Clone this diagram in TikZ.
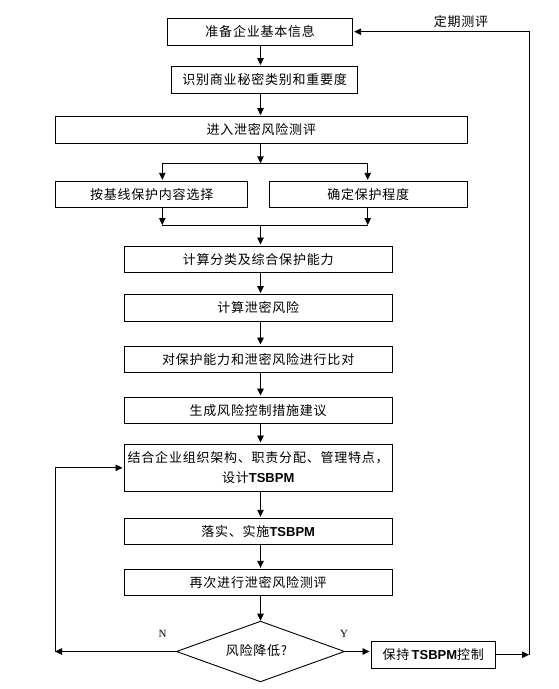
\documentclass[tikz,border=0pt]{standalone}
\usepackage{fontspec}
\setmainfont{Noto Sans CJK SC}[LetterSpace=6]
\newfontfamily\lat{Liberation Sans}
\newfontfamily\latserif{Liberation Serif}
\usetikzlibrary{arrows.meta,shapes.geometric,calc}
\newcommand\tsbpm{{\lat\bfseries\fontsize{13}{15}\selectfont TSBPM}}
\begin{document}
\begin{tikzpicture}[x=1pt,y=-1pt,
  box/.style={draw,line width=0.9pt,minimum height=26.5pt,inner sep=0pt,font=\fontsize{13}{20}\selectfont},
  arr/.style={-{Triangle[length=7pt,width=6.5pt]},line width=0.9pt,shorten >=1pt},
  ln/.style={line width=0.9pt},
  lbl/.style={font=\fontsize{13}{14}\selectfont,inner sep=0pt},
  yn/.style={font=\latserif\fontsize{11}{12}\selectfont,inner sep=0pt}]
\useasboundingbox (0,0) rectangle (558,689);
\node[box,minimum width=185pt] (b1) at (260.2,31.7) {准备企业基本信息};
\node[box,minimum width=186pt] (b2) at (264.7,79.7) {识别商业秘密类别和重要度};
\node[box,minimum width=412pt] (b3) at (261.3,129.8) {进入泄密风险测评};
\node[box,minimum width=192pt] (b4) at (151.7,194.5) {按基线保护内容选择};
\node[box,minimum width=198pt] (b5) at (368.3,194.5) {确定保护程度};
\node[box,minimum width=268.5pt] (b6) at (258.2,259.2) {计算分类及综合保护能力};
\node[box,minimum width=268.5pt] (b7) at (258.2,307.8) {计算泄密风险};
\node[box,minimum width=268.5pt] (b8) at (258.2,359.2) {对保护能力和泄密风险进行比对};
\node[box,minimum width=268.5pt] (b9) at (258.2,410.2) {生成风险控制措施建议};
\node[box,minimum width=268.5pt,minimum height=47.7pt,align=center] (b10) at (258.2,467.8) {结合企业组织架构、职责分配、管理特点，\\设计\tsbpm};
\node[box,minimum width=268.5pt] (b11) at (258.2,531.5) {落实、实施\tsbpm};
\node[box,minimum width=268.5pt] (b12) at (258.2,582.5) {再次进行泄密风险测评};
\node[draw,diamond,aspect=2.77,line width=0.9pt,minimum width=168.3pt,minimum height=60.7pt,inner sep=0pt,font=\fontsize{13}{14}\selectfont] (d) at (260.5,651.5) {\raisebox{2.5pt}{风险降低?\hspace{8pt}}};
\node[box,minimum width=124.7pt] (k) at (433.3,654.7) {保持\,\tsbpm 控制};
\node[lbl] (t1) at (461,22) {定期测评};
\node[yn] (tn) at (162.7,634) {N};
\node[yn] (ty) at (344,634) {Y};
% spine and helper coordinates
\coordinate (sp) at (260.5,0);
\coordinate (sl) at (162.3,163.3);
\coordinate (sr) at (367.7,163.3);
\coordinate (s1) at (260.5,163.3);
\coordinate (ml) at (162.3,225);
\coordinate (mr) at (367.7,225);
\coordinate (m1) at (260.5,225);
\coordinate (rr) at (529,0);
\coordinate (ll) at (55,0);
% connectors
\draw[arr] (sp |- b1.south) -- (sp |- b2.north);
\draw[arr] (sp |- b2.south) -- (sp |- b3.north);
\draw[arr,shorten >=0pt] (sp |- b3.south) -- (s1);
\draw[ln] (sl) -- (sr);
\draw[arr] (sl) -- (sl |- b4.north);
\draw[arr] (sr) -- (sr |- b5.north);
\draw[arr,shorten >=0pt] (sl |- b4.south) -- (ml);
\draw[arr,shorten >=0pt] (sr |- b5.south) -- (mr);
\draw[ln] (ml) -- (mr);
\draw[arr] (m1) -- (sp |- b6.north);
\draw[arr] (sp |- b6.south) -- (sp |- b7.north);
\draw[arr] (sp |- b7.south) -- (sp |- b8.north);
\draw[arr] (sp |- b8.south) -- (sp |- b9.north);
\draw[arr] (sp |- b9.south) -- (sp |- b10.north);
\draw[arr] (sp |- b10.south) -- (sp |- b11.north);
\draw[arr] (sp |- b11.south) -- (sp |- b12.north);
\draw[arr,shorten >=0pt] (sp |- b12.south) -- (d.north);
\draw[arr] (d.east) -- (d.east -| k.west);
\draw[arr,shorten >=0pt] (k.east) -- (k.east -| rr);
\draw[arr] (k.east -| rr) -- (rr |- b1.east) -- (b1.east);
\draw[arr,shorten >=0pt] (d.west) -- (d.west -| ll);
\draw[arr] (d.west -| ll) -- (ll |- b10.west) -- (b10.west);
\end{tikzpicture}
\end{document}
